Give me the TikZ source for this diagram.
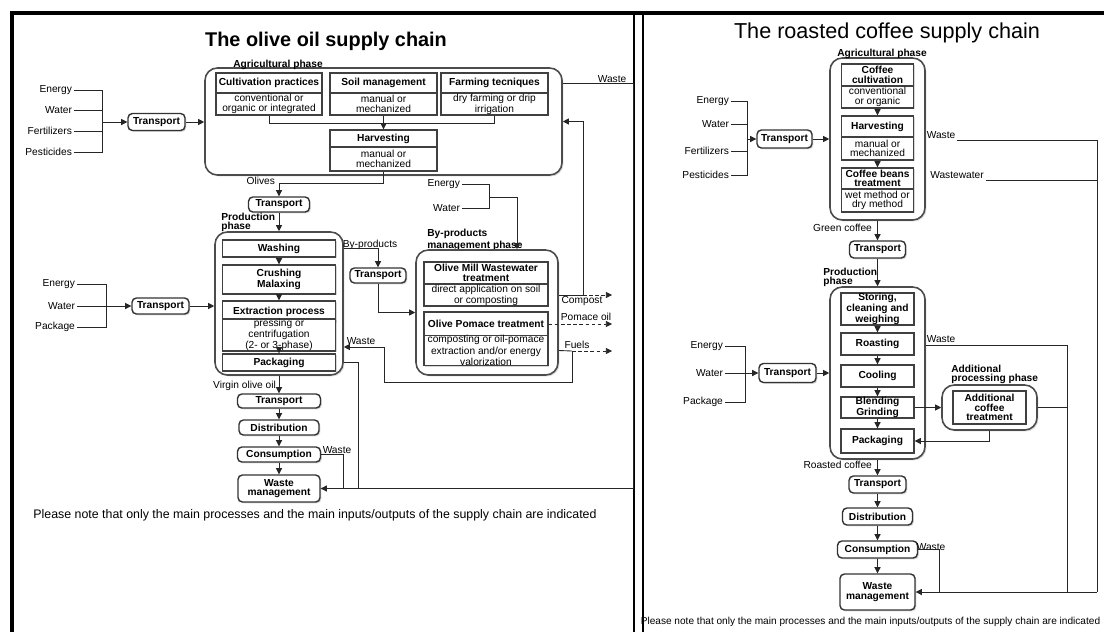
\documentclass[tikz,border=0pt]{standalone}
\usepackage{fontspec}
\setmainfont{Liberation Sans}
\usetikzlibrary{arrows.meta,shadows}
\newcommand{\lblfont}{\fontsize{5.8}{5.3}\selectfont}
\tikzset{
    sz/.style 2 args={minimum width=#1*0.02cm, minimum height=#2*0.02cm},
    shade box/.style={drop shadow={shadow xshift=0.8pt, shadow yshift=-0.8pt, opacity=0.3}},
    phasebox/.style={draw=black!70, line width=0.9pt, rounded corners=7pt, fill=white, shade box},
    stepbox/.style={draw=black!75, line width=0.8pt, fill=white, inner sep=0pt, align=center, font=\lblfont\bfseries, shade box},
    descbox/.style={draw=black!75, line width=0.8pt, fill=white, inner sep=0pt, align=center, shade box},
    movebox/.style={draw=black!80, line width=0.8pt, rounded corners=2.5pt, fill=white, inner sep=0pt, align=center, font=\lblfont\bfseries, shade box},
    phaselbl/.style={inner sep=0pt, align=left, font=\lblfont\bfseries},
    lbl/.style={inner sep=1pt},
    wire/.style={draw=black!85, line width=0.5pt},
    arr/.style={wire, -{Triangle[length=3.5pt, width=3.5pt]}},
    yieldarr/.style={arr, dash pattern=on 2pt off 1.5pt}
}

\begin{document}
\begin{tikzpicture}[x=0.02cm, y=-0.02cm, font=\lblfont]
    \useasboundingbox (0,0) rectangle (1104,632);
    % frames
    \draw[line width=1.8pt] (12,632) -- (12,13) -- (1104,13);
    \draw[line width=0.6pt] (634,13) -- (634,632);
    \draw[line width=0.9pt] (643,13) -- (643,632);

    % ---------------- olive oil ----------------
    \node[font=\fontsize{11.3}{13}\selectfont\bfseries] (otitle) at (326,41) {The olive oil supply chain};

    % agricultural phase
    \node[phasebox, sz={357}{107}] (oagri) at (383.5,121.5) {};
    \node[phaselbl, anchor=base] (oagrilbl) at (278,67) {Agricultural phase};
    \node[stepbox, sz={106}{20}] (ocult) at (269,83) {Cultivation practices};
    \node[descbox, sz={106}{22}] (ocultd) at (269,104) {conventional or\\organic or integrated};
    \node[stepbox, sz={107}{20}] (osoil) at (383.5,83) {Soil management};
    \node[descbox, sz={107}{22}] (osoild) at (383.5,104) {manual or\\mechanized};
    \node[stepbox, sz={107}{20}] (ofarm) at (494.5,83) {Farming tecniques};
    \node[descbox, sz={107}{22}] (ofarmd) at (494.5,104) {dry farming or drip\\irrigation};
    \node[stepbox, sz={107}{17}] (oharv) at (383.5,138.5) {Harvesting};
    \node[descbox, sz={107}{24}] (oharvd) at (383.5,159) {manual or\\mechanized};
    \draw[wire] (ocultd.south) -- ++(0,8) -| (ofarmd.south);
    \draw[arr] (osoild) -- (oharv);

    % inputs
    \node[lbl, anchor=east] (oen1) at (74,90) {Energy};
    \node[lbl, anchor=east] (owa1) at (74,110) {Water};
    \node[lbl, anchor=east] (ofe1) at (74,131) {Fertilizers};
    \node[lbl, anchor=east] (ope1) at (74,152) {Pesticides};
    \coordinate (obus1) at (102,122);
    \foreach \n in {oen1,owa1,ofe1,ope1}
        \draw[wire] (\n.east) -| (obus1);
    \node[movebox, sz={57}{17}] (otr1) at (156.5,122) {Transport};
    \draw[arr] (obus1) -- (otr1);
    \draw[arr] (otr1) -- (otr1 -| oagri.west);

    % to production
    \node[lbl, anchor=east] (olives) at (277,181) {Olives};
    \node[movebox, sz={61}{15}] (otr2) at (279,204.5) {Transport};
    \draw[arr] (oharvd.south) -- ++(0,12) -| (otr2.north);

    % production phase
    \node[phaselbl, anchor=west] (oprodlbl) at (221,222.5) {Production\\phase};
    \node[phasebox, sz={128}{143}] (oprod) at (279,303.5) {};
    \draw[arr] (otr2) -- (oprod);
    \node[stepbox, sz={113}{17}] (owash) at (279,248.5) {Washing};
    \node[stepbox, sz={113}{29}] (ocrush) at (279,279.5) {Crushing\\Malaxing};
    \node[stepbox, sz={113}{21}] (oextr) at (279,311.5) {Extraction process};
    \node[descbox, sz={113}{26}] (oextrd) at (279,335) {pressing or\\centrifugation\\(2- or 3-phase)};
    \node[stepbox, sz={113}{17}] (opack) at (279,362.5) {Packaging};
    \draw[arr] (owash) -- (ocrush);
    \draw[arr] (ocrush) -- (oextr);
    \draw[arr] (oextrd) -- (opack);

    \node[lbl, anchor=east] (oen2) at (77,284) {Energy};
    \node[lbl, anchor=east] (owa2) at (77,306) {Water};
    \node[lbl, anchor=east] (opa2) at (77,327) {Package};
    \coordinate (obus2) at (106,306);
    \foreach \n in {oen2,owa2,opa2}
        \draw[wire] (\n.east) -| (obus2);
    \node[movebox, sz={57}{16}] (otr4) at (160.5,306) {Transport};
    \draw[arr] (obus2) -- (otr4);
    \draw[arr] (otr4) -- (otr4 -| oprod.west);

    % by-products phase
    \node[lbl] (obyptxt) at (370,245) {By-products};
    \node[movebox, sz={56}{15}] (otr5) at (378,275.5) {Transport};
    \draw[arr] (oprod.east |- owash) -| (otr5.north);
    \node[phaselbl, anchor=west] (obyplbl) at (427,240) {By-products\\management phase};
    \node[phasebox, sz={142}{125}] (obyp) at (487,312.5) {};
    \draw[arr] (otr5.south) |- (obyp.west);
    \node[stepbox, sz={124}{22}] (oomw) at (486,273) {Olive Mill Wastewater\\treatment};
    \node[descbox, sz={124}{22}] (oomwd) at (486,295) {direct application on soil\\or composting};
    \node[stepbox, sz={124}{24}] (opom) at (486,324) {Olive Pomace treatment};
    \node[descbox, sz={124}{29}] (opomd) at (486,350.5) {composting or oil-pomace\\extraction and/or energy\\valorization};

    \node[lbl, anchor=east] (oen3) at (462,184) {Energy};
    \node[lbl, anchor=east] (owa3) at (462,208) {Water};
    \coordinate (obus3) at (489,197);
    \draw[wire] (oen3.east) -| (obus3);
    \draw[wire] (owa3.east) -| (obus3);
    \draw[arr] (obus3) -| ([xshift=0.6cm]obyp.north);

    % outputs
    \coordinate (ofb) at (583,295);
    \coordinate (ocompost) at (612,295);
    \coordinate (opomoil) at (612,324);
    \coordinate (ofuel) at (572,351);
    \coordinate (ofuelend) at (612,351);
    \coordinate (oret) at (384,382);
    \draw[wire] (obyp.east |- oomwd) -- (ofb);
    \draw[yieldarr] (ofb) -- (ocompost);
    \draw[arr] (ofb) |- (oagri.east);
    \draw[yieldarr] (opom.east) -- (opomoil);
    \draw[wire] (obyp.east |- opomd) -- (ofuel);
    \draw[yieldarr] (ofuel) -- (ofuelend);
    \draw[arr] (ofuel) |- (oret) |- ([yshift=-0.87cm]oprod.east);
    \node[lbl] (ocomptxt) at (582,301) {Compost};
    \node[lbl] (opomtxt) at (586,317) {Pomace oil};
    \node[lbl] (ofueltxt) at (577,345) {Fuels};
    \node[lbl] (oretxt) at (361,341) {Waste};

    % distribution
    \node[lbl, anchor=east] (ovirgin) at (278,386) {Virgin olive oil};
    \node[movebox, sz={83}{14}] (otr3) at (279,401) {Transport};
    \node[movebox, sz={80}{15}] (odist) at (279,427.5) {Distribution};
    \node[movebox, sz={83}{15}] (ocons) at (279,454.5) {Consumption};
    \node[movebox, sz={82}{27}] (owm) at (279,488.5) {Waste\\management};
    \draw[arr] (oprod) -- (otr3);
    \draw[arr] (otr3) -- (odist);
    \draw[arr] (odist) -- (ocons);
    \draw[arr] (ocons) -- (owm);

    % waste
    \coordinate (ow1) at (633,83);
    \coordinate (ow3) at (358,488.5);
    \coordinate (ow4) at (343,488.5);
    \draw[wire] (oagri.east |- ocult) -- (ow1);
    \draw[arr] (ow1) |- (owm.east);
    \draw[wire] (oprod.east |- opack) -| (ow3);
    \draw[wire] (ocons.east) -| (ow4);
    \node[lbl] (owtxt1) at (612,79) {Waste};
    \node[lbl] (owtxt2) at (337,450) {Waste};

    \node[font=\fontsize{7.05}{8}\selectfont, anchor=west, inner sep=0pt] (onote) at (33,515) {Please note that only the main processes and the main inputs/outputs of the supply chain are indicated};

    % ---------------- coffee ----------------
    \node[font=\fontsize{12.3}{14}\selectfont] (ctitle) at (887,33) {The roasted coffee supply chain};

    % agricultural phase
    \node[phasebox, sz={95}{162}] (cagri) at (877.5,139) {};
    \node[phaselbl, anchor=base] (cagrilbl) at (882,56) {Agricultural phase};
    \node[stepbox, sz={72}{22}] (ccult) at (877.5,75) {Coffee\\cultivation};
    \node[descbox, sz={72}{22}] (ccultd) at (877.5,97) {conventional\\or organic};
    \node[stepbox, sz={72}{21}] (charv) at (877.5,126.5) {Harvesting};
    \node[descbox, sz={72}{23}] (charvd) at (877.5,148.5) {manual or\\mechanized};
    \node[stepbox, sz={72}{21}] (cbean) at (877.5,178.5) {Coffee beans\\treatment};
    \node[descbox, sz={72}{23}] (cbeand) at (877.5,200.5) {wet method or\\dry method};
    \draw[arr] (ccultd) -- (charv);
    \draw[arr] (charvd) -- (cbean);

    \node[lbl, anchor=east] (cen1) at (731,101) {Energy};
    \node[lbl, anchor=east] (cwa1) at (731,124) {Water};
    \node[lbl, anchor=east] (cfe1) at (731,151) {Fertilizers};
    \node[lbl, anchor=east] (cpe1) at (731,175) {Pesticides};
    \coordinate (cbus1) at (747,139);
    \foreach \n in {cen1,cwa1,cfe1,cpe1}
        \draw[wire] (\n.east) -| (cbus1);
    \node[movebox, sz={55}{18}] (ctr1) at (784.5,139) {Transport};
    \draw[arr] (cbus1) -- (ctr1);
    \draw[arr] (ctr1) -- (cagri);

    \node[lbl] (cwst1) at (941,135) {Waste};
    \node[lbl] (cwst2) at (957,175) {Wastewater};
    \coordinate (cw1) at (1097,140);
    \coordinate (cw3) at (1097,180);
    \coordinate (cw2) at (1097,592);
    \draw[wire] (cwst1.east |- cw1) -- (cw1) -- (cw2);
    \draw[wire] (cwst2.east |- cw3) -- (cw3);

    % production phase
    \node[lbl, anchor=east] (cgreen) at (874,228) {Green coffee};
    \node[movebox, sz={56}{17}] (ctr2) at (877.5,249.5) {Transport};
    \draw[arr] (cagri) -- (ctr2);
    \node[phaselbl, anchor=west] (cprodlbl) at (823,277.5) {Production\\phase};
    \node[phasebox, sz={95}{172}] (cprod) at (877.5,373) {};
    \draw[arr] (ctr2) -- (cprod);
    \node[stepbox, sz={73}{32}] (cstor) at (877.5,309) {Storing,\\cleaning and\\weighing};
    \node[stepbox, sz={73}{22}] (croast) at (877.5,344) {Roasting};
    \node[stepbox, sz={73}{22}] (ccool) at (877.5,376) {Cooling};
    \node[stepbox, sz={73}{21}] (cblend) at (877.5,407.5) {Blending\\Grinding};
    \node[stepbox, sz={73}{24}] (cpack) at (877.5,441) {Packaging};
    \draw[arr] (cstor) -- (croast);
    \draw[arr] (croast) -- (ccool);
    \draw[arr] (ccool) -- (cblend);
    \draw[arr] (cblend) -- (cpack);

    \node[lbl, anchor=east] (cen2) at (725,346) {Energy};
    \node[lbl, anchor=east] (cwa2) at (725,373) {Water};
    \node[lbl, anchor=east] (cpa2) at (725,402) {Package};
    \coordinate (cbus2) at (745,373);
    \foreach \n in {cen2,cwa2,cpa2}
        \draw[wire] (\n.east) -| (cbus2);
    \node[movebox, sz={57}{19}] (ctr4) at (787.5,373) {Transport};
    \draw[arr] (cbus2) -- (ctr4);
    \draw[arr] (ctr4) -- (cprod);

    % additional processing
    \node[phaselbl, anchor=west] (caddlbl) at (951,374.5) {Additional\\processing phase};
    \node[phasebox, sz={95}{45}] (cadd) at (989.5,407.5) {};
    \node[stepbox, sz={73}{33}] (caddt) at (989.5,407.5) {Additional\\coffee\\treatment};
    \draw[arr] (cblend) -- (cadd);
    \draw[arr] (cadd.south) |- (cpack.east);

    \node[lbl] (cwst3) at (941,339) {Waste};
    \coordinate (cw4) at (1067,345);
    \coordinate (cw5) at (1067,592);
    \draw[wire] (cprod.east |- cw4) -- (cw4) -- (cw5);
    \draw[wire] (cadd.east) -- (cadd.east -| cw4);

    % distribution
    \node[lbl, anchor=east] (croasted) at (874,465) {Roasted coffee};
    \node[movebox, sz={57}{17}] (ctr3) at (877.5,484.5) {Transport};
    \node[movebox, sz={70}{17}] (cdist) at (877.5,516.5) {Distribution};
    \node[movebox, sz={80}{17}] (ccons) at (877.5,549.5) {Consumption};
    \node[movebox, sz={75}{36}] (cwm) at (877.5,592) {Waste\\management};
    \draw[arr] (cprod) -- (ctr3);
    \draw[arr] (ctr3) -- (cdist);
    \draw[arr] (cdist) -- (ccons);
    \draw[arr] (ccons) -- (cwm);
    \node[lbl] (cwst4) at (931,547) {Waste};
    \coordinate (cw6) at (939,592);
    \draw[wire] (ccons.east) -| (cw6);
    \draw[arr] (cw2) -- (cwm.east);

    \node[font=\fontsize{5.75}{6.5}\selectfont, inner sep=0pt] (cnote) at (870.5,622) {Please note that only the main processes and the main inputs/outputs of the supply chain are indicated};
\end{tikzpicture}
\end{document}
